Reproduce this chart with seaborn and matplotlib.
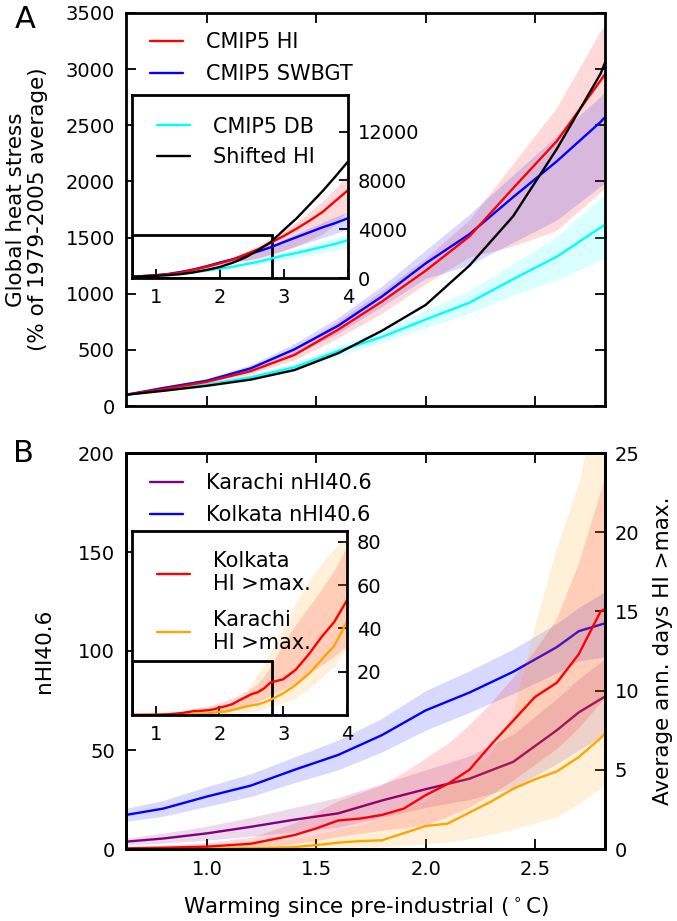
import matplotlib
matplotlib.use('Agg')
import matplotlib.pyplot as plt
import seaborn as sns
from matplotlib.patches import Rectangle
from matplotlib.lines import Line2D
from matplotlib.ticker import FormatStrFormatter

# ---------------- Panel A data ----------------
xa = [0.63, 0.8, 1.0, 1.2, 1.4, 1.6, 1.8, 2.0, 2.2, 2.4, 2.6, 2.8, 3.0, 3.2, 3.4, 3.6, 3.8, 4.0]
hi_mean = [100, 150, 215, 310, 455, 680, 930, 1205, 1510, 1940, 2360, 2900, 3450, 4050, 4700, 5400, 6300, 7200]
hi_lo = [95, 140, 195, 280, 405, 600, 820, 1080, 1320, 1420, 1560, 1900, 2250, 2650, 3100, 3600, 4400, 5600]
hi_hi = [105, 160, 235, 345, 505, 750, 1020, 1310, 1650, 2150, 2650, 3330, 3900, 4600, 5400, 6300, 7300, 8500]
swbgt_mean = [100, 160, 225, 335, 505, 715, 975, 1270, 1530, 1860, 2180, 2530, 2950, 3350, 3750, 4150, 4500, 4900]
swbgt_lo = [95, 150, 210, 305, 455, 640, 880, 1130, 1250, 1450, 1650, 1950, 2250, 2600, 2950, 3300, 3650, 4000]
swbgt_hi = [105, 170, 240, 360, 550, 780, 1060, 1380, 1700, 2050, 2400, 2750, 3200, 3650, 4100, 4550, 5000, 5450]
db_mean = [100, 140, 190, 255, 345, 490, 615, 770, 920, 1130, 1330, 1590, 1850, 2050, 2300, 2550, 2800, 3100]
db_lo = [95, 130, 175, 235, 315, 440, 560, 690, 820, 980, 1120, 1290, 1500, 1680, 1880, 2080, 2300, 2500]
db_hi = [105, 150, 205, 280, 375, 535, 675, 850, 1020, 1260, 1500, 1840, 2150, 2400, 2700, 3000, 3300, 3650]
shifted_hi = [100, 135, 180, 235, 320, 470, 670, 900, 1250, 1690, 2290, 2960, 3950, 4900, 6000, 7100, 8300, 9550]

# ---------------- Panel B data ----------------
x_nhi = [0.63, 0.8, 1.0, 1.2, 1.4, 1.6, 1.8, 2.0, 2.2, 2.4, 2.6, 2.7, 2.82]
kolkata_nhi = [17.2, 20.4, 26.5, 32.0, 40.0, 47.5, 57.5, 70.0, 79.0, 89.5, 102.0, 110.0, 114.0]
kolkata_nhi_lo = [14, 16.5, 21.5, 26.5, 33.5, 40, 49, 60, 69, 78.5, 89, 95, 97]
kolkata_nhi_hi = [20.5, 24.5, 31.5, 38, 46.5, 55, 66, 80, 90, 101, 114, 122, 130]
karachi_nhi = [3.7, 5.3, 7.9, 11.2, 14.8, 18.0, 24.5, 30.2, 35.5, 44.0, 60.0, 69.0, 77.0]
karachi_nhi_lo = [2.0, 3.0, 4.5, 6.5, 8.5, 11, 16, 21, 25, 31, 43, 50, 58]
karachi_nhi_hi = [5.5, 8, 11.5, 16, 21, 26, 33, 40, 47, 58, 76, 86, 96]

x_days = [0.63, 0.8, 1.0, 1.2, 1.4, 1.5, 1.6, 1.7, 1.8, 1.9, 2.0, 2.1, 2.2, 2.3, 2.4, 2.5, 2.6, 2.7, 2.8,
          3.0, 3.2, 3.4, 3.6, 3.8, 4.0]
kolkata_days = [0.04, 0.08, 0.15, 0.33, 0.88, 1.3, 1.8, 1.92, 2.15, 2.55, 3.4, 4.1, 5.0, 6.6, 8.1, 9.6, 10.5, 12.3, 15.0,
                16.5, 21, 28, 36, 43, 53]
kolkata_days_lo = [0.0, 0.02, 0.05, 0.1, 0.3, 0.5, 0.75, 0.95, 1.15, 1.3, 1.5, 2.0, 2.6, 3.4, 4.3, 5.3, 6.3, 7.6, 9.2,
                   12, 15, 19, 23, 27, 32]
kolkata_days_hi = [0.1, 0.2, 0.35, 0.7, 1.6, 2.3, 3.0, 3.5, 4.0, 4.8, 5.7, 6.6, 7.8, 9.2, 10.8, 12.5, 14.5, 18, 22.5,
                   33, 42, 50, 58, 67, 78]
karachi_days = [0.0, 0.0, 0.02, 0.05, 0.12, 0.25, 0.4, 0.5, 0.55, 1.0, 1.45, 1.6, 2.3, 3.0, 3.8, 4.4, 4.9, 5.8, 7.0,
                10, 14, 19, 25.5, 32, 43]
karachi_days_lo = [0, 0, 0, 0, 0, 0.02, 0.05, 0.08, 0.1, 0.2, 0.3, 0.4, 0.6, 0.9, 1.2, 1.6, 2.0, 2.8, 3.8,
                   5.5, 8, 12, 17, 23, 31]
karachi_days_hi = [0.05, 0.1, 0.2, 0.35, 0.6, 0.9, 1.2, 1.5, 1.9, 2.5, 3.0, 4.0, 5.0, 6.0, 8.5, 14, 19, 23, 29,
                   40, 52, 62, 70, 77, 82]

main_xticks = [1.0, 1.5, 2.0, 2.5]
inset_xticks = [1, 2, 3, 4]
a_yticks = [0, 500, 1000, 1500, 2000, 2500, 3000, 3500]
a_inset_yticks = [0, 4000, 8000, 12000]
b_yticks = [0, 50, 100, 150, 200]
b_right_yticks = [0, 5, 10, 15, 20, 25]
b_inset_yticks = [20, 40, 60, 80]

# ---------------- style ----------------
sns.set_style('ticks')
plt.rcParams.update({
    'font.family': ['DejaVu Sans'],
    'mathtext.default': 'regular',
    'xtick.direction': 'in', 'ytick.direction': 'in',
    'axes.linewidth': 2.0,
    'xtick.major.size': 7, 'ytick.major.size': 7,
    'xtick.major.width': 1.3, 'ytick.major.width': 1.3,
    'xtick.color': 'black', 'ytick.color': 'black',
    'axes.edgecolor': 'black', 'text.color': 'black', 'axes.labelcolor': 'black',
    'xtick.labelsize': 14, 'ytick.labelsize': 14,
})

W, H = 677, 921
fig = plt.figure(figsize=(W / 100, H / 100), dpi=100)


def frac(x0, y0, x1, y1):
    return [x0 / W, 1 - y1 / H, (x1 - x0) / W, (y1 - y0) / H]


XL = (0.63, 2.82)
IXL = (0.63, 4.0)
LW = 1.7
BA = 0.15
LEG = dict(frameon=False, fontsize=15, handlelength=1.6, handletextpad=1.1,
           borderpad=0, borderaxespad=0, loc='upper left')

# ================= Panel A =================
axA = fig.add_axes(frac(126, 13, 605, 406))
for lo, hi, c in [(hi_lo, hi_hi, 'red'), (swbgt_lo, swbgt_hi, 'blue'), (db_lo, db_hi, 'cyan')]:
    axA.fill_between(xa, lo, hi, color=c, alpha=BA, lw=0)
sns.lineplot(x=xa, y=db_mean, color='cyan', lw=LW, ax=axA)
sns.lineplot(x=xa, y=swbgt_mean, color='blue', lw=LW, ax=axA)
sns.lineplot(x=xa, y=hi_mean, color='red', lw=LW, ax=axA)
sns.lineplot(x=xa, y=shifted_hi, color='black', lw=LW, ax=axA)
axA.set_xlim(*XL)
axA.set_ylim(0, 3500)
axA.set_xticks(main_xticks)
axA.set_yticks(a_yticks)
axA.tick_params(top=True, right=True, labelbottom=False, pad=8)
axA.set_ylabel('Global heat stress\n(% of 1979-2005 average)', fontsize=15.5, linespacing=1.15)
axA.yaxis.set_label_coords(-0.162, 0.5)
axA.legend(handles=[Line2D([], [], color='red', lw=LW), Line2D([], [], color='blue', lw=LW)],
           labels=['CMIP5 HI', 'CMIP5 SWBGT'], bbox_to_anchor=(0.05, 0.952), labelspacing=0.6, **LEG)

insA = fig.add_axes(frac(132, 95, 348, 278))
insA.set_facecolor('white')
for lo, hi, c in [(hi_lo, hi_hi, 'red'), (swbgt_lo, swbgt_hi, 'blue'), (db_lo, db_hi, 'cyan')]:
    insA.fill_between(xa, lo, hi, color=c, alpha=BA, lw=0)
sns.lineplot(x=xa, y=db_mean, color='cyan', lw=LW, ax=insA)
sns.lineplot(x=xa, y=swbgt_mean, color='blue', lw=LW, ax=insA)
sns.lineplot(x=xa, y=hi_mean, color='red', lw=LW, ax=insA)
sns.lineplot(x=xa, y=shifted_hi, color='black', lw=LW, ax=insA)
insA.add_patch(Rectangle((IXL[0], 0), XL[1] - IXL[0], 3500, fill=False, ec='black', lw=2))
insA.set_xlim(*IXL)
insA.set_ylim(0, 15000)
insA.set_xticks(inset_xticks)
insA.set_yticks(a_inset_yticks)
insA.tick_params(left=False, top=False, right=True, labelleft=False, labelright=True,
                 bottom=True, labelbottom=True, pad=7, length=6.5)
insA.legend(handles=[Line2D([], [], color='cyan', lw=LW), Line2D([], [], color='black', lw=LW)],
            labels=['CMIP5 DB', 'Shifted HI'], bbox_to_anchor=(0.116, 0.882), labelspacing=0.5, **LEG)

fig.text(25 / W, 1 - 19 / H, 'A', fontsize=22, ha='center', va='center')

# ================= Panel B =================
axB = fig.add_axes(frac(126, 453, 605, 849))
axB.fill_between(x_nhi, kolkata_nhi_lo, kolkata_nhi_hi, color='blue', alpha=BA, lw=0)
axB.fill_between(x_nhi, karachi_nhi_lo, karachi_nhi_hi, color='purple', alpha=BA, lw=0)
sns.lineplot(x=x_nhi, y=kolkata_nhi, color='blue', lw=LW, ax=axB)
sns.lineplot(x=x_nhi, y=karachi_nhi, color='purple', lw=LW, ax=axB)
axB.set_xlim(*XL)
axB.set_ylim(0, 200)
axB.set_xticks(main_xticks)
axB.xaxis.set_major_formatter(FormatStrFormatter('%.1f'))
axB.set_yticks(b_yticks)
axB.tick_params(top=True, right=False, pad=8)
axB.set_xlabel(r'Warming since pre-industrial ($^\circ$C)', fontsize=15.5, labelpad=12)
axB.set_ylabel('nHI40.6', fontsize=15.5)
axB.yaxis.set_label_coords(-0.15, 0.5)
axB.legend(handles=[Line2D([], [], color='purple', lw=LW), Line2D([], [], color='blue', lw=LW)],
           labels=['Karachi nHI40.6', 'Kolkata nHI40.6'], bbox_to_anchor=(0.05, 0.95), labelspacing=0.6, **LEG)

axB2 = axB.twinx()
axB2.fill_between(x_days, karachi_days_lo, karachi_days_hi, color='orange', alpha=BA, lw=0)
axB2.fill_between(x_days, kolkata_days_lo, kolkata_days_hi, color='red', alpha=BA, lw=0)
sns.lineplot(x=x_days, y=karachi_days, color='orange', lw=LW, ax=axB2)
sns.lineplot(x=x_days, y=kolkata_days, color='red', lw=LW, ax=axB2)
axB2.set_xlim(*XL)
axB2.set_ylim(0, 25)
axB2.set_yticks(b_right_yticks)
axB2.tick_params(right=True, labelright=True, pad=7)
axB2.set_ylabel('Average ann. days HI >max.', fontsize=15.5)
axB2.yaxis.set_label_coords(1.10, 0.5)
for sp in axB2.spines.values():
    sp.set_linewidth(2.0)

insB = fig.add_axes(frac(132, 531, 347, 715))
insB.set_zorder(5)
insB.set_facecolor('white')
insB.fill_between(x_days, karachi_days_lo, karachi_days_hi, color='orange', alpha=BA, lw=0)
insB.fill_between(x_days, kolkata_days_lo, kolkata_days_hi, color='red', alpha=BA, lw=0)
sns.lineplot(x=x_days, y=karachi_days, color='orange', lw=LW, ax=insB)
sns.lineplot(x=x_days, y=kolkata_days, color='red', lw=LW, ax=insB)
insB.add_patch(Rectangle((IXL[0], 0), XL[1] - IXL[0], 25, fill=False, ec='black', lw=2))
insB.set_xlim(*IXL)
insB.set_ylim(0, 85)
insB.set_xticks(inset_xticks)
insB.set_yticks(b_inset_yticks)
insB.tick_params(left=False, top=False, right=True, labelleft=False, labelright=True,
                 bottom=True, labelbottom=True, pad=7, length=6.5)
insB.legend(handles=[Line2D([], [], color='red', lw=LW), Line2D([], [], color='orange', lw=LW)],
            labels=['Kolkata\nHI >max.', 'Karachi\nHI >max.'], bbox_to_anchor=(0.116, 0.89),
            labelspacing=0.75, **LEG)

fig.text(23 / W, 1 - 453 / H, 'B', fontsize=22, ha='center', va='center')

fig.savefig('out.png', dpi=100)
